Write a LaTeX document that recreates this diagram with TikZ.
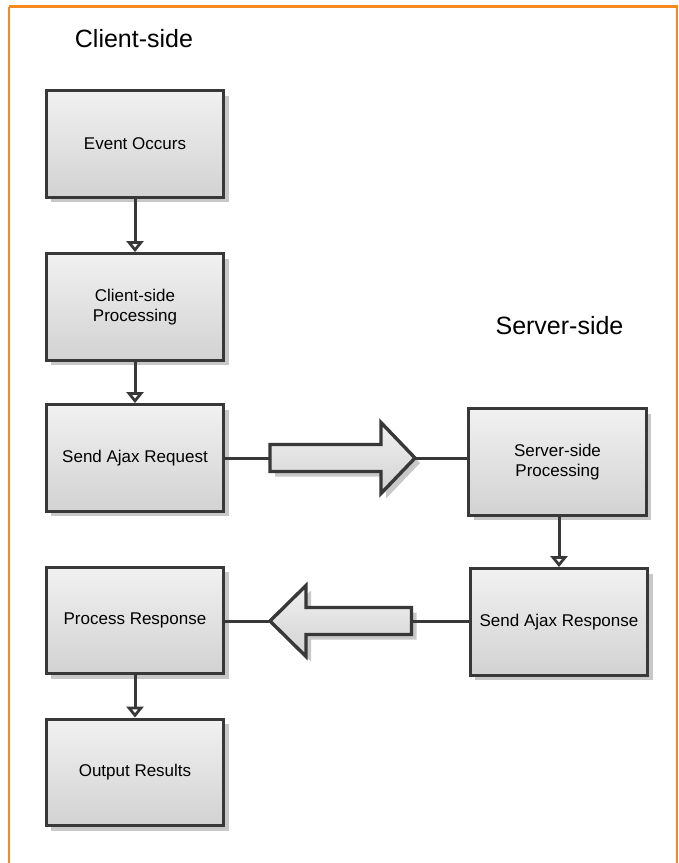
\documentclass[tikz,border=0pt]{standalone}
\usepackage{fontspec}
\setmainfont{Liberation Sans}
\usetikzlibrary{arrows.meta,shadows}
\definecolor{frameorange}{HTML}{F58A1F}
\definecolor{edge}{HTML}{383838}
\definecolor{filltop}{HTML}{F1F1F1}
\definecolor{fillbot}{HTML}{D2D2D2}
\definecolor{shade}{HTML}{C8C8C8}
\tikzset{
  myshadow/.style={drop shadow={shadow xshift=5pt,shadow yshift=-5pt,fill=shade,opacity=1}},
  stepbox/.style={draw=edge,line width=3.4pt,top color=filltop,bottom color=fillbot,
    minimum width=177.5pt,minimum height=106.5pt,inner sep=0pt,align=center,
    font=\fontsize{17}{20.5}\selectfont,myshadow},
  bigarrow/.style={draw=edge,line width=3.4pt,top color=filltop,bottom color=fillbot,myshadow,line join=miter},
  flow/.style={draw=edge,line width=3pt,-{Triangle[open,width=17pt,length=11pt,line width=3pt]}},
  link/.style={draw=edge,line width=3pt},
  title/.style={font=\fontsize{25}{30}\selectfont,anchor=base}
}
\begin{document}
\begin{tikzpicture}[x=1pt,y=-1pt]
\useasboundingbox (0,0) rectangle (679,863);
\draw[frameorange,line width=2.2pt] (9,6.5) -- (677,6.5) -- (677,875) (9,6.5) -- (9,875);

\node[title] (ct) at (134,47) {Client-side};
\node[title] (st) at (559.5,334) {Server-side};

\node[stepbox] (ev) at (135,144) {Event Occurs};
\node[stepbox] (cp) at (135,307) {Client-side\\Processing};
\node[stepbox] (req) at (135,458) {Send Ajax Request};
\node[stepbox] (srv) at (557.5,462) {Server-side\\Processing};
\node[stepbox] (resp) at (559,622) {Send Ajax Response};
\node[stepbox] (pr) at (135,620.5) {Process Response};
\node[stepbox] (out) at (135,772.5) {Output Results};

% right big arrow
\coordinate (rtail) at (270,458);
\coordinate (rtip) at (415,458);
\path[bigarrow] (270,444.5) -- (381,444.5) -- (381,422.5) -- (415,458) -- (381,493.5) -- (381,471.5) -- (270,471.5) -- cycle;
% left big arrow
\coordinate (ltip) at (270,621);
\coordinate (ltail) at (411.5,621);
\path[bigarrow] (411.5,607.5) -- (306,607.5) -- (306,585.5) -- (270,621) -- (306,656.5) -- (306,634.5) -- (411.5,634.5) -- cycle;

\draw[link] (req.east |- rtail) -- (rtail);
\draw[link] (rtip) -- (rtip -| srv.west);
\draw[link] (ltail) -- (ltail -| resp.west);
\draw[link] (ltip) -- (ltip -| pr.east);

\draw[flow] (ev) -- (cp);
\draw[flow] (cp) -- (req);
\draw[flow] (pr) -- (out);
\draw[flow] (srv.south -| resp.north) -- (resp.north);
\end{tikzpicture}
\end{document}
